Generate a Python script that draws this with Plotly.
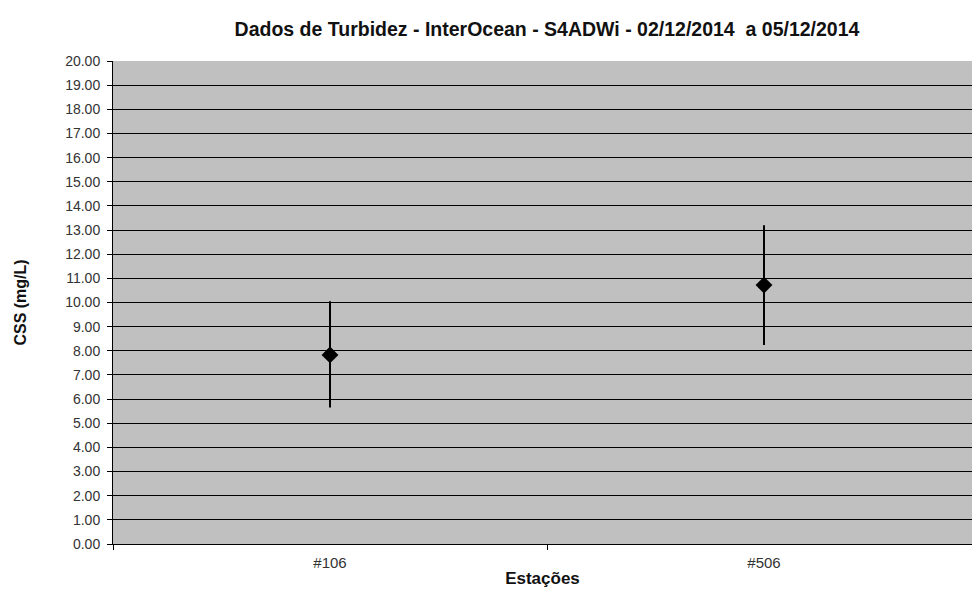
import plotly.graph_objects as go

# Turbidity-derived suspended solids per station: mean with min/max range
stations = ["#106", "#506"]
css_mean = [7.83, 10.72]
css_max = [10.05, 13.20]
css_min = [5.65, 8.24]

err_plus = [hi - m for hi, m in zip(css_max, css_mean)]
err_minus = [m - lo for m, lo in zip(css_mean, css_min)]

y_ticks = [float(v) for v in range(0, 21)]
y_tick_text = [f"{v:.2f}" for v in y_ticks]

fig = go.Figure()
fig.add_trace(go.Scatter(
    x=stations,
    y=css_mean,
    mode="markers",
    marker=dict(symbol="diamond", size=13, color="black"),
    error_y=dict(
        type="data",
        symmetric=False,
        array=err_plus,
        arrayminus=err_minus,
        color="black",
        thickness=2,
        width=0,
    ),
    showlegend=False,
))

fig.update_layout(
    width=972,
    height=592,
    margin=dict(l=113, r=0, t=61, b=48),
    paper_bgcolor="white",
    plot_bgcolor="#c0c0c0",
    font=dict(family="Liberation Sans, Arial, sans-serif", size=14, color="#222"),
    title=dict(
        text="<b>Dados de Turbidez - InterOcean - S4ADWi - 02/12/2014  a 05/12/2014</b>",
        x=547 / 972,
        xanchor="center",
        y=1 - 29 / 592,
        yanchor="middle",
        font=dict(size=19.5, color="#111"),
    ),
)

fig.update_xaxes(
    type="category",
    range=[-0.5, -0.5 + 859 / 434],
    showgrid=False,
    showline=True,
    linecolor="black",
    linewidth=1,
    ticks="outside",
    tickson="boundaries",
    ticklen=5,
    tickcolor="black",
    ticklabelstandoff=5,
    tickfont=dict(size=15, color="#333"),
    title=dict(text="<b>Estações</b>", font=dict(size=17, color="#111"), standoff=2),
    zeroline=False,
)

fig.update_yaxes(
    range=[0, 20],
    tickmode="array",
    tickvals=y_ticks,
    ticktext=y_tick_text,
    showgrid=True,
    gridcolor="black",
    gridwidth=1,
    showline=True,
    linecolor="black",
    linewidth=1,
    ticks="outside",
    ticklen=5,
    tickcolor="black",
    ticklabelstandoff=4,
    tickfont=dict(size=14, color="#333"),
    title=dict(text="<b>CSS (mg/L)</b>", font=dict(size=16, color="#111"), standoff=34),
    zeroline=False,
)

fig.write_html("out.html")
